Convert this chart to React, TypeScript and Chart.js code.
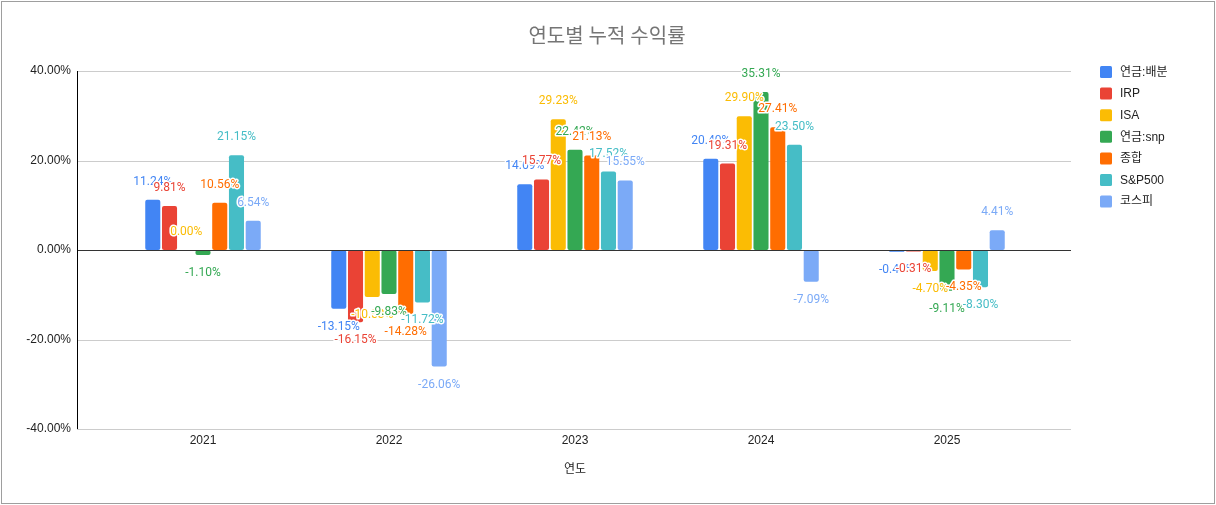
import React, { useEffect, useRef } from "react";
import { Chart, registerables } from "chart.js";

Chart.register(...registerables);

// categories
const years = ["2021", "2022", "2023", "2024", "2025"];

// series values (%)
const pensionDividend = [11.24, -13.15, 14.69, 20.4, -0.4];
const irp = [9.81, -16.15, 15.77, 19.31, -0.31];
const isa = [0.0, -10.53, 29.23, 29.9, -4.7];
const pensionSnp = [-1.1, -9.83, 22.42, 35.31, -9.11];
const combined = [10.56, -14.28, 21.13, 27.41, -4.35];
const sp500 = [21.15, -11.72, 17.52, 23.5, -8.3];
const kospi = [6.54, -26.06, 15.55, -7.09, 4.41];

const seriesNames = ["연금:배분", "IRP", "ISA", "연금:snp", "종합", "S&P500", "코스피"];
const seriesColors = ["#4285F4", "#EA4335", "#FBBC04", "#34A853", "#FF6D01", "#46BDC6", "#7BAAF7"];

// y axis ticks
const yMin = -40;
const yMax = 40;
const yStep = 20;

const chartTitle = "연도별 누적 수익률";
const xTitle = "연도";

const tickFont = "Arial, 'Liberation Sans', 'Noto Sans CJK KR', sans-serif";
const labelFont = "Roboto, 'Noto Sans CJK KR', sans-serif";

const fmt = (v: number) => v.toFixed(2) + "%";

// grid lines, baseline, axis line, labels, title, legend
const decorations = {
    id: "decorations",
    beforeDraw(chart: any) {
        const ctx = chart.ctx;
        ctx.save();
        ctx.fillStyle = "#ffffff";
        ctx.fillRect(0, 0, chart.width, chart.height);
        ctx.strokeStyle = "#9e9e9e";
        ctx.lineWidth = 1;
        ctx.strokeRect(1.5, 1.5, chart.width - 3, chart.height - 3);
        ctx.restore();
    },
    beforeDatasetsDraw(chart: any) {
        const ctx = chart.ctx;
        const y = chart.scales.y;
        ctx.save();
        ctx.strokeStyle = "#cccccc";
        ctx.lineWidth = 1;
        y.ticks.forEach((t: any) => {
            if (t.value === 0) return;
            const py = Math.round(y.getPixelForValue(t.value)) + 0.5;
            ctx.beginPath();
            ctx.moveTo(77, py);
            ctx.lineTo(1071, py);
            ctx.stroke();
        });
        ctx.restore();
    },
    afterDatasetsDraw(chart: any) {
        const ctx = chart.ctx;
        const y = chart.scales.y;
        ctx.save();
        // baseline and axis line
        ctx.strokeStyle = "#333333";
        ctx.lineWidth = 1;
        const zy = Math.round(y.getPixelForValue(0)) + 0.5;
        ctx.beginPath();
        ctx.moveTo(77, zy);
        ctx.lineTo(1071, zy);
        ctx.stroke();
        ctx.strokeStyle = "#000000";
        ctx.beginPath();
        ctx.moveTo(77.5, y.getPixelForValue(yMax));
        ctx.lineTo(77.5, y.getPixelForValue(yMin));
        ctx.stroke();

        // value labels
        ctx.font = "12px " + labelFont;
        ctx.textAlign = "center";
        ctx.textBaseline = "middle";
        ctx.lineJoin = "round";
        chart.data.datasets.forEach((ds: any, i: number) => {
            const meta = chart.getDatasetMeta(i);
            meta.data.forEach((bar: any, j: number) => {
                const v = ds.data[j];
                const ty = v >= 0 ? bar.y - 18 : bar.y + 18;
                const text = fmt(v);
                ctx.strokeStyle = "#ffffff";
                ctx.lineWidth = 3;
                ctx.strokeText(text, bar.x, ty);
                ctx.fillStyle = ds.backgroundColor;
                ctx.fillText(text, bar.x, ty);
            });
        });
        ctx.restore();
    },
    afterDraw(chart: any) {
        const ctx = chart.ctx;
        ctx.save();
        // title
        ctx.font = "20px " + labelFont;
        ctx.fillStyle = "#757575";
        ctx.textAlign = "center";
        ctx.textBaseline = "middle";
        ctx.fillText(chartTitle, 607, 38);

        // x axis title
        ctx.font = "12px " + tickFont;
        ctx.fillStyle = "#222222";
        ctx.fillText(xTitle, 575, 470);

        // legend
        ctx.textAlign = "left";
        chart.data.datasets.forEach((ds: any, i: number) => {
            const cy = 72 + i * 21.6;
            ctx.fillStyle = ds.backgroundColor;
            ctx.beginPath();
            ctx.roundRect(1100, cy - 6, 12, 12, 1.5);
            ctx.fill();
            ctx.fillStyle = "#222222";
            ctx.fillText(ds.label, 1120, cy + 0.5);
        });
        ctx.restore();
    },
};

export default function App() {
    const canvasRef = useRef<HTMLCanvasElement | null>(null);
    const chartRef = useRef<Chart | null>(null);

    useEffect(() => {
        if (!canvasRef.current) return;
        const ctx = canvasRef.current.getContext("2d");
        if (!ctx) return;

        if (chartRef.current) {
            chartRef.current.destroy();
        }

        const values = [pensionDividend, irp, isa, pensionSnp, combined, sp500, kospi];

        chartRef.current = new Chart(ctx, {
            type: "bar",
            data: {
                labels: years,
                datasets: values.map((d, i) => ({
                    label: seriesNames[i],
                    data: d,
                    backgroundColor: seriesColors[i],
                    borderRadius: 2,
                    borderSkipped: false,
                    categoryPercentage: 0.63,
                    barPercentage: 0.9,
                })),
            },
            options: {
                animation: false,
                responsive: true,
                maintainAspectRatio: false,
                layout: {
                    padding: { left: 0, right: 176, top: 71, bottom: 0 },
                },
                plugins: {
                    legend: { display: false },
                    title: { display: false },
                    tooltip: { enabled: false },
                },
                scales: {
                    x: {
                        grid: { display: false, drawTicks: false },
                        border: { display: false },
                        ticks: {
                            color: "#222222",
                            padding: 4,
                            font: { size: 12, family: tickFont },
                            maxRotation: 0,
                        },
                        afterFit: (scale: any) => {
                            scale.height = 76;
                        },
                    },
                    y: {
                        min: yMin,
                        max: yMax,
                        grid: { display: false, drawTicks: false },
                        border: { display: false },
                        ticks: {
                            stepSize: yStep,
                            color: "#222222",
                            padding: 39,
                            font: { size: 12, family: tickFont },
                            callback: (v: any) => fmt(Number(v)),
                        },
                        afterFit: (scale: any) => {
                            scale.width = 110;
                        },
                    },
                },
            },
            plugins: [decorations],
        });

        return () => {
            chartRef.current?.destroy();
            chartRef.current = null;
        };
    }, []);

    return (
        <div style={{ position: "fixed", left: 0, top: 0, width: 1216, height: 505, background: "#fff" }}>
            <canvas ref={canvasRef}></canvas>
        </div>
    );
}
